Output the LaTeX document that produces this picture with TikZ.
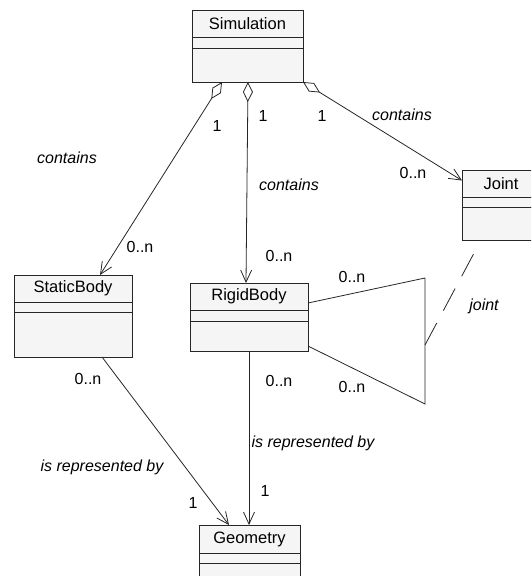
\documentclass[tikz,border=0pt]{standalone}
\usepackage{fontspec}
\setmainfont{Liberation Sans}
\usepackage{tikz}
\usetikzlibrary{arrows.meta,positioning}

\begin{document}
\begin{tikzpicture}[x=1pt, y=-1pt, node distance=0pt]

\tikzstyle{classname} = [rectangle, draw=black!85, line width=1pt, fill=black!4, anchor=north west,
outer sep=0pt, inner sep=0pt, font=\fontsize{16.5}{18}\selectfont]
\tikzstyle{compart} = [rectangle, draw=black!85, line width=1pt, fill=black!4, outer sep=0pt,
inner sep=0pt]
\tikzstyle{assoc} = [draw=black!85, line width=0.8pt, {Diamond[open, length=20pt, width=10pt]}-{Straight Barb[length=12pt, width=11pt]}]
\tikzstyle{link} = [draw=black!85, line width=0.8pt, -{Straight Barb[length=12pt, width=11pt]}]
\tikzstyle{mult} = [font=\fontsize{16}{18}\selectfont]
\tikzstyle{role} = [font=\fontsize{16}{18}\selectfont\itshape]

\useasboundingbox (0,0) rectangle (531,576);
\clip (0,0) rectangle (531,576);

\node [classname, minimum width=111pt, minimum height=27pt] (sim) at (192,10) {Simulation};
\node [compart, below=of sim, minimum width=111pt, minimum height=11pt] (sim-att) {};
\node [compart, below=of sim-att, minimum width=111pt, minimum height=34pt] (sim-ops) {};

\node [classname, minimum width=118pt, minimum height=27pt] (static) at (14,275) {StaticBody};
\node [compart, below=of static, minimum width=118pt, minimum height=10pt] (static-att) {};
\node [compart, below=of static-att, minimum width=118pt, minimum height=45pt] (static-ops) {};

\node [classname, minimum width=118pt, minimum height=27pt] (rigid) at (190,283) {RigidBody};
\node [compart, below=of rigid, minimum width=118pt, minimum height=11pt] (rigid-att) {};
\node [compart, below=of rigid-att, minimum width=118pt, minimum height=30pt] (rigid-ops) {};

\node [classname, minimum width=78pt, minimum height=27pt] (joint) at (462,170) {Joint};
\node [compart, below=of joint, minimum width=78pt, minimum height=10pt] (joint-att) {};
\node [compart, below=of joint-att, minimum width=78pt, minimum height=33pt] (joint-ops) {};

\node [classname, minimum width=101pt, minimum height=28pt] (geom) at (199,525) {Geometry};
\node [compart, below=of geom, minimum width=101pt, minimum height=10pt] (geom-att) {};
\node [compart, below=of geom-att, minimum width=101pt, minimum height=30pt] (geom-ops) {};

\coordinate (loop-top) at (425,278);
\coordinate (loop-bot) at (425,404);
\coordinate (joint-link) at (425,345);

\path [assoc] ([xshift=30pt]sim-ops.south west) -- ([xshift=86pt]static.north west);
\path [assoc] ([xshift=56pt]sim-ops.south west) -- ([xshift=56pt]rigid.north west);
\path [assoc] (sim-ops.south east) -- ([yshift=3pt]joint.west);
\path [link] ([xshift=88pt]static-ops.south west) -- ([xshift=30pt]geom.north west);
\path [link] ([xshift=59pt]rigid-ops.south west) -- ([xshift=50pt]geom.north west);
\draw [black!85, line width=0.8pt] ([yshift=-6.5pt]rigid.east) -- (loop-top) -- (loop-bot)
  -- ([yshift=-10pt]rigid-ops.east);
\draw [black!85, line width=0.8pt, dash pattern=on 25pt off 14pt on 25pt off 14pt on 25pt off 40pt]
  (joint-link) -- ([xshift=19pt]joint-ops.south west);

\node [mult] (m-ss) at (217,126) {1};
\node [role] (r-ss) at (67,158) {contains};
\node [mult] (m-st) at (140,247) {0..n};
\node [mult] (m-rs) at (263,116) {1};
\node [role] (r-rs) at (289,185) {contains};
\node [mult] (m-rt) at (279,256) {0..n};
\node [mult] (m-js) at (322,116) {1};
\node [role] (r-js) at (402,115) {contains};
\node [mult] (m-jt) at (413,173) {0..n};
\node [mult] (m-lt) at (352,277) {0..n};
\node [mult] (m-lb) at (352,387) {0..n};
\node [role] (r-j) at (484,306) {joint};
\node [mult] (m-sg) at (88,379) {0..n};
\node [role] (r-sg) at (102,467) {is represented by};
\node [mult] (m-sgt) at (193,503) {1};
\node [mult] (m-rg) at (279,381) {0..n};
\node [role] (r-rg) at (313,443) {is represented by};
\node [mult] (m-rgt) at (265,491) {1};

\end{tikzpicture}
\end{document}
